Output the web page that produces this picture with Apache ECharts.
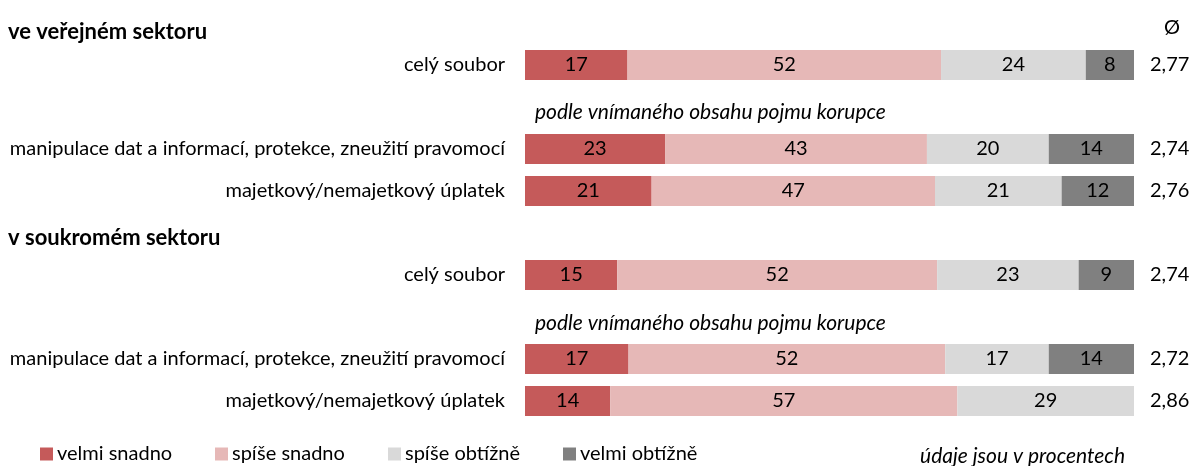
<!DOCTYPE html>
<html>
<head>
<meta charset="utf-8">
<script src="https://cdn.jsdelivr.net/npm/echarts@6/dist/echarts.min.js"></script>
<style>
  html, body { margin: 0; padding: 0; background: #fff; }
  #chart { width: 1199px; height: 466px; }
</style>
</head>
<body>
<div id="chart"></div>
<script>
// Survey answers (percent) for each row, top to bottom
const sectors = ['ve veřejném sektoru', 'v soukromém sektoru'];
const rowLabels = [
  'celý soubor',
  'manipulace dat a informací, protekce, zneužití pravomocí',
  'majetkový/nemajetkový úplatek',
  'celý soubor',
  'manipulace dat a informací, protekce, zneužití pravomocí',
  'majetkový/nemajetkový úplatek'
];
const seriesNames = ['velmi snadno', 'spíše snadno', 'spíše obtížně', 'velmi obtížně'];
const velmiSnadno = [17, 23, 21, 15, 17, 14];
const spiseSnadno = [52, 43, 47, 52, 52, 57];
const spiseObtizne = [24, 20, 21, 23, 17, 29];
const velmiObtizne = [8, 14, 12, 9, 14, 0];
const averages = [2.77, 2.74, 2.76, 2.74, 2.72, 2.86];
const subtitle = 'podle vnímaného obsahu pojmu korupce';
const avgHeader = 'Ø';
const footnote = 'údaje jsou v procentech';

const colors = ['#C55A5A', '#E6B8B7', '#D9D9D9', '#808080'];
const font = 'Lato, "Liberation Sans", sans-serif';
const fs = 20;

// Vertical slots on the category axis: row index or null for spacer lines
// (subtitle line, sector header line)
const slotRows = [0, null, 1, 2, null, 3, null, 4, 5];
const slotIds = slotRows.map((r, i) => 's' + i);

const raw = [velmiSnadno, spiseSnadno, spiseObtizne, velmiObtizne];
const rowTotals = rowLabels.map((_, r) => raw.reduce((s, arr) => s + arr[r], 0));

const series = raw.map((arr, k) => ({
  name: seriesNames[k],
  type: 'bar',
  stack: 'total',
  barWidth: 30,
  itemStyle: { color: colors[k] },
  emphasis: { disabled: true },
  label: {
    show: true,
    position: 'inside',
    color: '#000',
    fontFamily: font,
    fontSize: fs,
    formatter: p => {
      const r = slotRows[p.dataIndex];
      return (r === null || arr[r] === 0) ? '' : String(arr[r]);
    }
  },
  // each row is shown as shares of its own total (100 % stacked)
  data: slotRows.map(r => r === null ? '-' : arr[r] / rowTotals[r] * 100)
}));

// one legend block per answer so that the entries sit on even columns
const legendLefts = [40, 215, 388, 563];
const legends = seriesNames.map((name, k) => ({
  left: legendLefts[k],
  top: 444,
  padding: 0,
  itemWidth: 13,
  itemHeight: 13,
  itemGap: 0,
  icon: 'rect',
  selectedMode: false,
  textStyle: { color: '#000', fontFamily: font, fontSize: fs, padding: [0, 0, 0, -1] },
  data: [name]
}));

const chart = echarts.init(document.getElementById('chart'));
chart.setOption({
  animation: false,
  backgroundColor: '#fff',
  color: colors,
  grid: { left: 525, right: 65, top: 44, height: 378 },
  xAxis: { type: 'value', min: 0, max: 100, show: false },
  yAxis: [
    {
      type: 'category',
      inverse: true,
      data: slotIds,
      axisLine: { show: false },
      axisTick: { show: false },
      splitLine: { show: false },
      axisLabel: {
        margin: 20,
        color: '#000',
        fontFamily: font,
        fontSize: fs,
        formatter: (v, i) => slotRows[i] === null ? '' : rowLabels[slotRows[i]]
      }
    },
    {
      type: 'category',
      inverse: true,
      position: 'right',
      data: slotIds,
      axisLine: { show: false },
      axisTick: { show: false },
      splitLine: { show: false },
      axisLabel: {
        margin: 16,
        color: '#000',
        fontFamily: font,
        fontSize: fs,
        formatter: (v, i) => slotRows[i] === null ? '' : averages[slotRows[i]].toFixed(2).replace('.', ',')
      }
    }
  ],
  legend: legends,
  graphic: [
    { type: 'text', x: 8, y: 32, style: { text: sectors[0], font: 'bold 22px ' + font, fill: '#000', align: 'left', verticalAlign: 'middle' } },
    { type: 'text', x: 8, y: 238, style: { text: sectors[1], font: 'bold 22px ' + font, fill: '#000', align: 'left', verticalAlign: 'middle' } },
    { type: 'text', x: 535, y: 112, style: { text: subtitle, font: 'italic 21px ' + font, fill: '#000', align: 'left', verticalAlign: 'middle' } },
    { type: 'text', x: 535, y: 323, style: { text: subtitle, font: 'italic 21px ' + font, fill: '#000', align: 'left', verticalAlign: 'middle' } },
    { type: 'text', x: 1164, y: 28, style: { text: avgHeader, font: '20px ' + font, fill: '#000', align: 'left', verticalAlign: 'middle' } },
    { type: 'text', x: 1125, y: 456, style: { text: footnote, font: 'italic 21px ' + font, fill: '#000', align: 'right', verticalAlign: 'middle' } }
  ],
  series: series
});
</script>
</body>
</html>
